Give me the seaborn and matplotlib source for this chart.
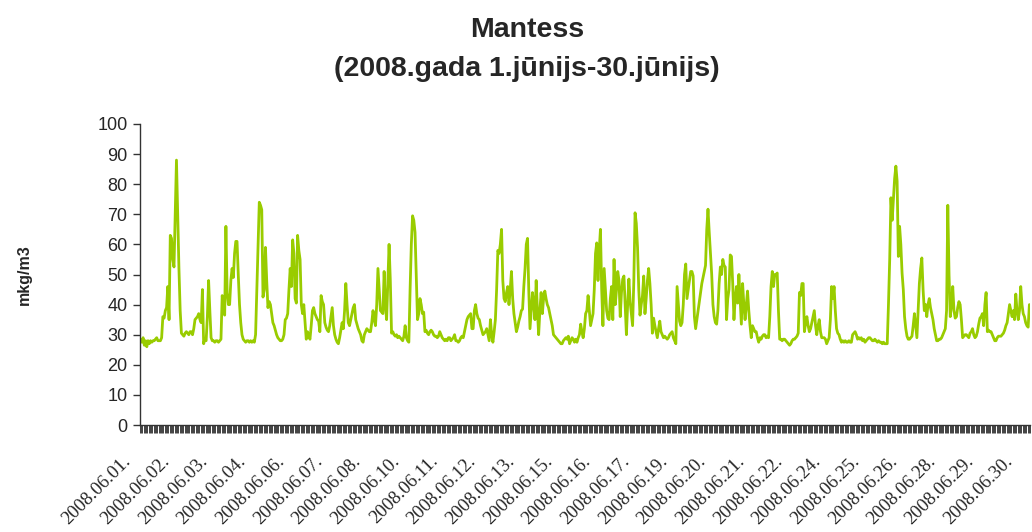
import numpy as np
import matplotlib
matplotlib.use("Agg")
import matplotlib.pyplot as plt
import matplotlib.transforms as mtransforms
from matplotlib.ticker import FixedLocator
import seaborn as sns
import pandas as pd

# hourly readings, one row of 24 values per day (June 2008)
day_values = [
    [28.5, 27.5, 29, 26.5, 28, 26, 28, 27, 28, 27.5, 28, 28, 28.5, 29, 28, 28, 28, 29, 36, 35.5, 38, 39, 46, 35],
    [63, 62, 55, 52.5, 70, 88, 70, 52, 38, 30.5, 30, 29.5, 30.5, 31, 30.5, 30, 31, 31, 30, 32, 35, 35.5, 36, 37],
    [35, 34, 45, 27, 28.5, 28, 36, 48, 38, 29, 28, 28, 27.5, 28, 28, 27.5, 28, 28.5, 43, 40, 36.5, 66, 44, 40],
    [40, 48, 52, 49, 57, 61, 61, 50, 40, 34, 30, 28.5, 28, 27.5, 28, 28, 27.5, 28, 27.5, 28, 27.5, 30, 45, 60],
    [74, 73, 71.5, 42.5, 45, 59, 48, 39, 41, 40, 37, 34, 33, 31.5, 30, 29, 28.5, 28, 28, 28.5, 30, 35, 35.5, 37],
    [45, 52, 46, 61.5, 57, 42, 40.5, 63, 58, 55, 40, 37, 40, 34, 28.5, 31, 29.5, 28.5, 33, 38, 39, 37, 36, 35],
    [34.5, 31, 43, 41, 40, 34, 32.5, 31.5, 31, 33, 36, 39, 33, 30, 28.5, 27.5, 27, 29, 31.5, 34, 32, 38, 47, 40],
    [34, 33, 35, 37, 39, 40, 35, 33.5, 32, 31, 30, 28, 27.5, 30, 31, 32, 31.5, 31, 31, 34, 38, 35, 33, 40],
    [52, 45, 38, 37.5, 37, 51, 40, 35, 48, 60, 48, 30.5, 31, 30, 29.5, 30, 29, 29.5, 29, 28.5, 28, 29.5, 33, 29],
    [28, 27.5, 45, 60, 69.5, 68, 64, 50, 35, 37, 42, 40, 37, 37.5, 31, 31.5, 30.5, 30, 31, 31.5, 31, 30, 29.5, 29.5],
    [29, 29.5, 31, 30, 29, 28.5, 28, 28.5, 28, 29, 29, 28, 28.5, 29, 30, 28, 28, 27.5, 28, 29, 29.5, 29, 31, 33],
    [35, 36, 36.5, 37, 32, 32, 38, 40, 37, 35.5, 35, 33, 31.5, 30, 30.5, 31, 32, 30, 28, 35, 30, 27.5, 31, 35],
    [45, 58, 57, 60, 65, 48, 42, 41, 44, 46, 40, 45, 51, 42, 37, 34, 31, 32.5, 34.5, 36, 38, 38.5, 46, 52],
    [60, 62, 45, 32, 38, 44, 40, 35, 48, 38, 30, 38, 44, 37, 42, 44.5, 42, 40, 39, 37, 35, 33, 30, 29.5],
    [29, 28.5, 28, 27.5, 27, 27, 28, 28.5, 29, 28.5, 29.5, 27, 28, 29, 28.5, 27.5, 28.5, 27.5, 29, 30, 33.5, 31, 29, 32],
    [37, 38, 43, 38, 33, 35, 37, 45, 57, 60.5, 48, 58, 65, 45, 33, 52, 45, 38, 35.5, 35, 42, 46, 35, 55],
    [40, 45, 51, 48, 36, 44, 48.5, 49.5, 40, 30, 40, 48.5, 41, 37, 33, 48, 70.5, 67, 59, 45, 36.5, 40, 43, 49.5],
    [37, 42, 48, 52, 47, 40, 30.5, 35.5, 33, 31, 29, 32, 34.5, 31, 30, 29, 29.5, 29, 28.5, 29, 30, 30.5, 31, 29],
    [28, 27, 46, 40, 34.5, 33, 34, 40, 50, 53.5, 42, 45, 48, 51, 51, 49.5, 36, 32, 35, 38, 41, 44, 47, 49],
    [51, 53, 65, 71.7, 64, 57, 50, 40, 36, 34, 33.5, 38, 47, 52.5, 50, 55, 53, 52.5, 35, 42, 45, 56.5, 56, 47],
    [35, 42, 46, 40.5, 50, 42, 33.5, 47, 40, 35, 40, 44.5, 38, 33, 29, 33, 32, 31, 31, 29, 27.5, 29, 28.5, 29.5],
    [30, 30, 29, 29.5, 29, 36, 46, 51, 46, 50, 50, 50.5, 38, 28.5, 28.5, 28, 28.5, 28.5, 28, 27.5, 27, 26.5, 27, 28],
    [28.5, 28.5, 29, 29.5, 30.5, 44, 43, 47, 47, 31, 34, 36, 33, 31, 32, 34, 36, 38, 33, 30, 33, 35, 31, 29],
    [29, 29, 28.5, 27, 28, 29, 35, 46, 42, 46, 38, 32, 30.5, 30, 28.5, 27.5, 28, 27.5, 28, 27.5, 27.5, 28, 27.5, 27.5],
    [30, 30.5, 31, 30, 28.5, 29, 28.5, 29, 28, 28.5, 27.5, 28, 28.5, 29, 29, 28.5, 28, 28, 28.5, 28, 27.5, 28, 27.5, 27.5],
    [27, 27.5, 27, 27, 27, 40, 55, 75.5, 68, 75, 82, 86, 81, 56, 66, 60, 50.5, 45, 36, 32, 29.5, 28.5, 28.5, 29],
    [29.5, 33, 37, 33, 29, 38, 47, 52, 55.5, 45, 38, 40, 36, 40, 42, 39, 37, 35, 32, 30, 28, 28, 28.5, 28.5],
    [29, 30, 31, 32, 38, 73, 50, 36, 40, 46, 38, 35.5, 36, 39, 41, 40, 35, 29, 29.5, 30, 30, 29.5, 29, 30.5],
    [31, 32, 30, 29, 29.5, 31, 33.5, 35.5, 36, 37, 33, 40, 44, 31, 31.5, 31, 31, 30, 29, 28, 28, 29, 29.5, 29.5],
    [29.5, 30, 30.5, 31.5, 33, 34, 37, 40, 38, 36, 38, 35, 43.5, 38, 35, 38, 46, 40, 37, 36, 34, 33, 32.5, 40],
]

tick_labels = [
    "2008.06.01.", "2008.06.02.", "2008.06.03.", "2008.06.04.", "2008.06.06.",
    "2008.06.07.", "2008.06.08.", "2008.06.10.", "2008.06.11.", "2008.06.12.",
    "2008.06.13.", "2008.06.15.", "2008.06.16.", "2008.06.17.", "2008.06.19.",
    "2008.06.20.", "2008.06.21.", "2008.06.22.", "2008.06.24.", "2008.06.25.",
    "2008.06.26.", "2008.06.28.", "2008.06.29.", "2008.06.30.",
]
label_every = 31  # one label every 31 hourly categories

values = [v for day in day_values for v in day]
df = pd.DataFrame({"hour": np.arange(len(values)), "value": values})

sns.set_style("white")
plt.rcParams["font.family"] = ["Liberation Sans", "DejaVu Sans"]

fig = plt.figure(figsize=(10.32, 5.32), dpi=100)
ax = fig.add_axes([140 / 1032, 107 / 532, 890 / 1032, 301 / 532])

sns.lineplot(data=df, x="hour", y="value", ax=ax, color="#99CC00", linewidth=2.0)

ax.set_xlim(-0.5, len(values) - 0.5)
ax.set_ylim(0, 100)
ax.set_yticks(range(0, 101, 10))
ax.tick_params(axis="y", labelsize=13, length=5, width=1, color="#333333",
               direction="out", left=True, pad=4)

# category tick marks at every hour, labels every 31 hours
ax.xaxis.set_minor_locator(FixedLocator(np.arange(-0.5, len(values), 1)))
ax.set_xticks(np.arange(0, len(values), label_every))
ax.set_xticklabels(tick_labels, rotation=45, ha="right", va="baseline",
                   rotation_mode="anchor", fontsize=13.5, family="Liberation Serif")
ax.tick_params(axis="x", which="major", length=0, pad=0, bottom=True)
ax.tick_params(axis="x", which="minor", length=6, width=0.6, color="#222222",
               direction="out", bottom=True)
shift = mtransforms.ScaledTranslation(-9 / 100, -37 / 100, fig.dpi_scale_trans)
for lab in ax.get_xticklabels():
    lab.set_transform(lab.get_transform() + shift)

for side in ["top", "right"]:
    ax.spines[side].set_visible(False)
for side in ["left", "bottom"]:
    ax.spines[side].set_color("#333333")
    ax.spines[side].set_linewidth(1)

ax.set_xlabel("")
ax.set_ylabel("mkg/m3", fontsize=11.5, fontweight="bold")
ax.yaxis.set_label_coords(-0.122, 0.5)
ax.grid(False)

fig.text(527 / 1032, 1 - 37 / 532, "Mantess", ha="center", va="baseline",
         fontsize=20.5, fontweight="bold")
fig.text(527 / 1032, 1 - 76 / 532, "(2008.gada 1.jūnijs-30.jūnijs)",
         ha="center", va="baseline", fontsize=20.5, fontweight="bold")

fig.savefig("out.png", dpi=100)
